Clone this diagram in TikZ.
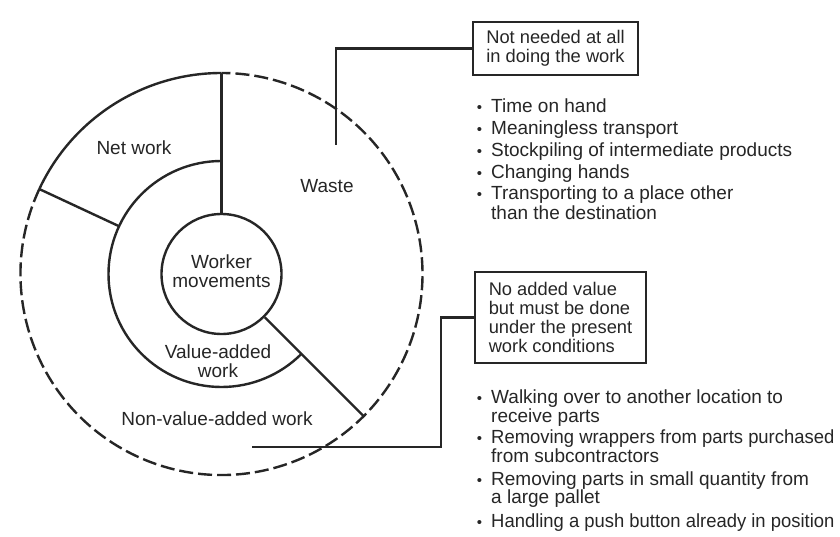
\documentclass[tikz,border=0pt]{standalone}
\usepackage{fontspec}
\setmainfont{Liberation Sans}
\usetikzlibrary{calc}
\definecolor{ink}{HTML}{262626}
\newcommand{\bul}{{\fontsize{15}{15}\selectfont\textbullet}}
\tikzset{
  ring/.style={draw=ink, line width=2.4pt},
  dashring/.style={draw=ink, line width=2.4pt, dash pattern=on 14pt off 5pt},
  conn/.style={draw=ink, line width=2.1pt},
  lbl/.style={text=ink, font=\fontsize{19}{19.5}\selectfont, align=center, inner sep=0pt},
  infobox/.style={draw=ink, line width=1.5pt, text=ink, font=\fontsize{18.3}{18.7}\selectfont, align=left, inner sep=0pt},
  item/.style={text=ink, font=\fontsize{19}{19}\selectfont, anchor=base west, inner sep=0pt},
}
\begin{document}
\begin{tikzpicture}[x=1pt, y=-1pt]
\useasboundingbox[fill=white] (0,0) rectangle (840,537);
\coordinate (C) at (221.5,274);
% inner circle
\node[ring, circle, minimum size=120pt, inner sep=0pt] (wm) at (C) {};
\node[lbl] (wmt) at (221.5,271) {Worker\\movements};
% key points
\coordinate (otop) at ($(C)+(-90:201)$);
\coordinate (onw) at ($(C)+(-155:201)$);
\coordinate (mnw) at ($(C)+(-155:113)$);
\coordinate (mtop) at ($(C)+(-90:113)$);
\coordinate (ose) at ($(C)+(45:201)$);
% outer circle: solid part and dashed part
\draw[ring] (otop) arc[start angle=-90, end angle=-155, radius=201];
\draw[dashring] (onw) arc[start angle=-155, end angle=-450, radius=201];
% middle arc
\draw[ring] (mtop) arc[start angle=-90, end angle=-315, radius=113];
% radial lines
\draw[ring] (wm.north) -- (otop);
\draw[ring] (wm.-45) -- (ose);
\draw[ring] (mnw) -- (onw);
% labels
\node[lbl, anchor=base] (net) at (134,155) {Net work};
\node[lbl, anchor=base] (waste) at (327,193) {Waste};
\node[lbl] (va) at (218,361) {Value-added\\work};
\node[lbl, anchor=base] (nva) at (217,425) {Non-value-added work};
% boxes
\node[infobox, minimum width=165pt, minimum height=53pt] (box1) at (555.5,48.5) {Not needed at all\\in doing the work};
\node[infobox, minimum width=171pt, minimum height=91pt] (box2) at (560.5,317.5) {No added value\\but must be done\\under the present\\work conditions};
% connectors
\coordinate (w1) at (336,145);
\draw[conn] (w1) |- (box1.west);
\coordinate (n1) at (252,447);
\coordinate (n2) at (441,447);
\draw[conn] (n1) -- (n2) |- (box2.west);
% list 1
\node[item] (a1) at (491,113) {\llap{\bul\hspace{9pt}}Time on hand};
\node[item] (a2) at (491,135) {\llap{\bul\hspace{9pt}}Meaningless transport};
\node[item] (a3) at (491,157) {\llap{\bul\hspace{9pt}}Stockpiling of intermediate products};
\node[item] (a4) at (491,178.5) {\llap{\bul\hspace{9pt}}Changing hands};
\node[item] (a5) at (491,200) {\llap{\bul\hspace{9pt}}Transporting to a place other};
\node[item] (a5b) at (491,220) {than the destination};
% list 2
\node[item] (b1) at (491,403) {\llap{\bul\hspace{9pt}}Walking over to another location to};
\node[item] (b1b) at (491,422) {receive parts};
\node[item] (b2) at (491,443) {\llap{\bul\hspace{9pt}}\scalebox{0.97}[1]{Removing wrappers from parts purchased}};
\node[item] (b2b) at (491,462) {from subcontractors};
\node[item] (b3) at (491,485) {\llap{\bul\hspace{9pt}}Removing parts in small quantity from};
\node[item] (b3b) at (491,503) {a large pallet};
\node[item] (b4) at (491,527) {\llap{\bul\hspace{9pt}}\scalebox{0.97}[1]{Handling a push button already in position}};
\end{tikzpicture}
\end{document}
